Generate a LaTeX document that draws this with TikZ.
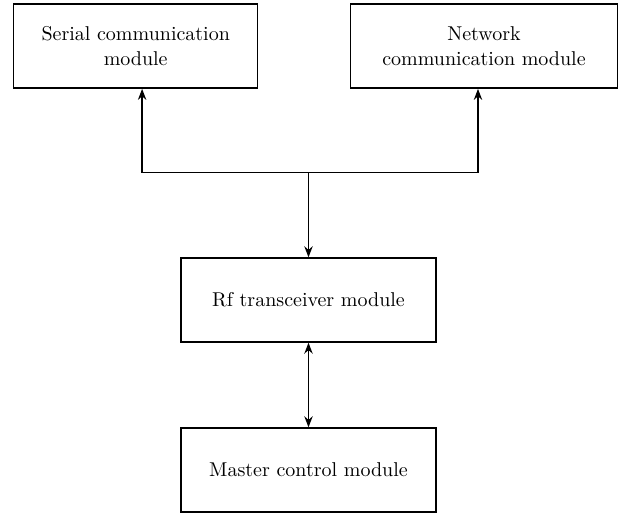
\documentclass[tikz,border=0pt]{standalone}
\usepackage{tikz}
\usepackage{xcolor}
\usetikzlibrary{arrows.meta}

\begin{document}
\begin{tikzpicture}[x=0.5pt, y=-0.5pt,
        module/.style={rectangle, draw, line width=0.7pt, align=center,
                minimum height=42pt, inner sep=0pt, font=\fontsize{10}{12.5}\selectfont},
        link/.style={line width=0.65pt, -{Stealth[length=5.5pt, width=4.2pt]}},
        dlink/.style={line width=0.65pt, {Stealth[length=5.5pt, width=4.2pt]}-{Stealth[length=5.5pt, width=4.2pt]}}]

                \useasboundingbox (0, 0) rectangle (618, 513);

                % Nodes
                \node[module, minimum width=122pt] (serial) at (135.7, 46.2) {Serial communication\\module};
                \node[module, minimum width=133.3pt] (network) at (484, 46.2) {Network\\communication module};
                \node[module, minimum width=127.5pt] (rf) at (308.5, 300) {Rf transceiver module};
                \node[module, minimum width=127.5pt] (master) at (308.5, 470) {Master control module};
                \coordinate (split) at (308.5, 172.7);

                % Edges
                \draw[link] (split) -| ([xshift=3.2pt]serial.south);
                \draw[link] (split) -| ([xshift=-3pt]network.south);
                \draw[link] (split) -- (rf);
                \draw[dlink] (rf) -- (master);

            \end{tikzpicture}
\end{document}
